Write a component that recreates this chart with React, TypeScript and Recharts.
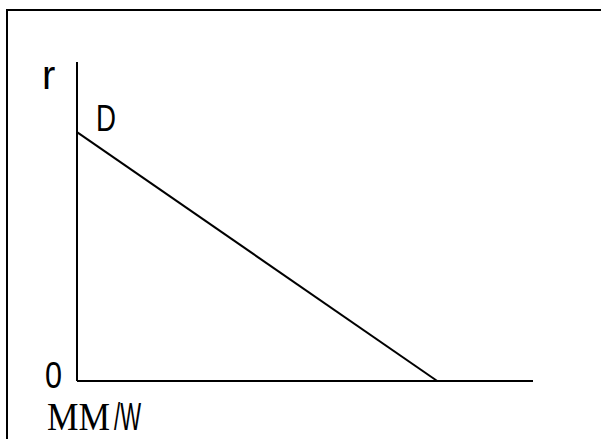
import { LineChart, Line, XAxis, YAxis, Label, LabelList } from "recharts";

// demand line D in the (MM/W, r) plane
const quantities = [0, 79];
const rates = [78, 0];
const curveLabels = ["D", ""];

const data = quantities.map((q, i) => ({ q, r: rates[i], name: curveLabels[i] }));

const SANS = "'Liberation Sans', Arial, sans-serif";
const SERIF = "'Liberation Serif', 'Times New Roman', serif";

function YLabels({ viewBox }: any) {
  if (!viewBox) return null;
  const { x, y, width, height } = viewBox;
  const ax = x + width;
  const base = y + height;
  return (
    <g fill="#000">
      <text x={ax - 35} y={y + 27} style={{ fontFamily: SANS, fontSize: 40 }}>r</text>
      <text x={ax - 32} y={base + 7} textLength={17} lengthAdjust="spacingAndGlyphs" style={{ fontFamily: SANS, fontSize: 37 }}>
        0
      </text>
      <text x={ax - 30} y={base + 49} textLength={63} lengthAdjust="spacingAndGlyphs" style={{ fontFamily: SERIF, fontSize: 40 }}>
        MM
      </text>
      <text x={ax + 37} y={base + 49} textLength={27} lengthAdjust="spacingAndGlyphs" style={{ fontFamily: SANS, fontSize: 38 }}>
        /W
      </text>
    </g>
  );
}

function CurveLabel({ x, y, value }: any) {
  if (!value) return null;
  return (
    <text
      x={x + 19}
      y={y - 1}
      textLength={20}
      lengthAdjust="spacingAndGlyphs"
      style={{ fontFamily: SANS, fontSize: 37 }}
      fill="#000"
    >
      {value}
    </text>
  );
}

export default function App() {
  return (
    <div style={{ position: "absolute", left: 0, top: 0, width: 601, height: 439, overflow: "hidden", background: "#fff" }}>
      <div style={{ position: "absolute", left: 0, top: 0 }}>
        <LineChart width={601} height={439} data={data} margin={{ top: 62, left: 76, right: 68, bottom: 57 }}>
          <XAxis
            dataKey="q"
            type="number"
            domain={[0, 100]}
            height={1}
            tick={false}
            tickLine={false}
            axisLine={{ stroke: "#000", strokeWidth: 2 }}
          />
          <YAxis
            type="number"
            domain={[0, 100]}
            width={1}
            tick={false}
            tickLine={false}
            axisLine={{ stroke: "#000", strokeWidth: 2 }}
          >
            <Label content={YLabels} />
          </YAxis>
          <Line dataKey="r" stroke="#000" strokeWidth={2} dot={false} isAnimationActive={false}>
            <LabelList dataKey="name" content={CurveLabel} />
          </Line>
        </LineChart>
      </div>
      <div
        style={{
          position: "absolute",
          left: 6,
          top: 9,
          width: 620,
          height: 460,
          borderTop: "2px solid #000",
          borderLeft: "2px solid #000",
          pointerEvents: "none",
        }}
      />
    </div>
  );
}
